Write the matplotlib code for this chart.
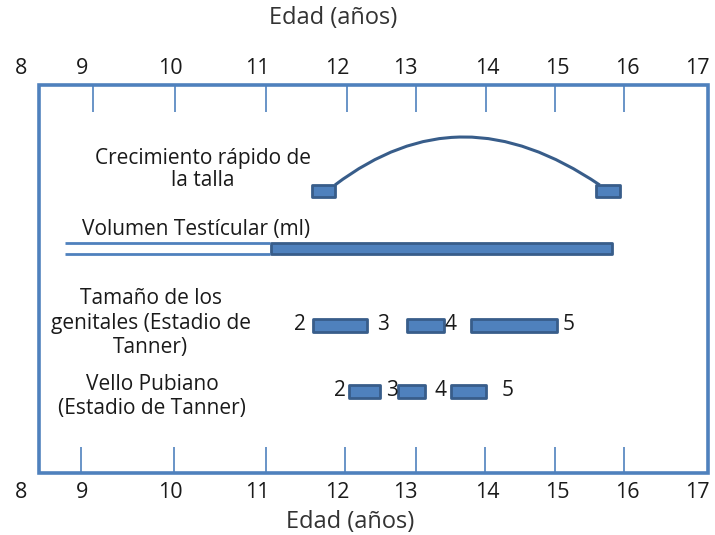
import numpy as np
import matplotlib.pyplot as plt
from matplotlib.path import Path
from matplotlib.patches import PathPatch, Rectangle

plt.rcParams['font.family'] = ['Open Sans', 'DejaVu Sans']

BLUE = '#4F81BD'
EDGE = '#385D8A'
TXT = '#1a1a1a'

# ages printed along the axis
AGES = [8, 9, 10, 11, 12, 13, 14, 15, 16, 17]
# tick marks inside the frame (they do not sit exactly under the numbers)
TOP_TICKS = [9.12, 10.06, 11.11, 12.15, 13.13, 13.99, 14.97, 15.96]
BOTTOM_TICKS = [8.98, 10.05, 11.11, 12.12, 13.13, 13.98, 14.97, 15.96]

# crecimiento rapido de la talla: start / end markers
talla_start = [11.69, 15.56]
talla_end = [11.975, 15.90]

# volumen testicular
testis_line = (8.72, 11.16)
testis_bar = (11.175, 15.78)

# tamano de los genitales (Tanner)
gen_start = [11.70, 13.02, 13.80]
gen_end = [12.44, 13.47, 15.00]
gen_labels = ['2', '3', '4', '5']
gen_label_age = [11.54, 12.68, 13.55, 15.17]

# vello pubiano (Tanner)
vello_start = [12.18, 12.90, 13.56]
vello_end = [12.63, 13.24, 13.99]
vello_labels = ['2', '3', '4', '5']
vello_label_age = [12.04, 12.81, 13.43, 14.29]

# the drawing's age axis is not evenly spaced: map ages onto it
KNOT_AGE = [7, 8, 9, 10, 11, 12, 13, 14, 15, 16, 17, 18]
KNOT_PX = [-40, 21, 82, 170, 257, 337, 405, 487, 557, 627, 697, 767]


def fwd(a):
    return np.interp(a, KNOT_AGE, KNOT_PX)


def inv(p):
    return np.interp(p, KNOT_PX, KNOT_AGE)


fig = plt.figure(figsize=(7.15, 5.35), dpi=100)
ax = fig.add_axes([0, 0, 1, 1])
ax.set_xscale('function', functions=(fwd, inv))
ax.set_xlim(inv(0), inv(715))
ax.set_ylim(535, 0)
ax.axis('off')

# frame + ticks
ax.add_patch(Rectangle((8.30, 85), 17.16 - 8.30, 473 - 85, fill=False,
                       ec=BLUE, lw=2.6))
ax.vlines(TOP_TICKS, 85, 112, color=BLUE, lw=1.2)
ax.vlines(BOTTOM_TICKS, 447, 473, color=BLUE, lw=1.2)

for a in AGES:
    ax.text(a, 68, str(a), ha='center', va='center', fontsize=15.5, color=TXT)
    ax.text(a, 492, str(a), ha='center', va='center', fontsize=15.5, color=TXT)
ax.text(11.95, 18, 'Edad (años)', ha='center', va='center', fontsize=17, color='#333333')
ax.text(12.19, 522, 'Edad (años)', ha='center', va='center', fontsize=17, color='#333333')


def bars(starts, ends, y, h):
    b = ax.barh([y] * len(starts), np.subtract(ends, starts), left=starts,
                height=h, color=BLUE, edgecolor=EDGE, lw=2)
    for p in b:
        p.set_joinstyle('round')


BODY = 15

# talla
bars(talla_start, talla_end, 190.5, 12)
x0, x1 = talla_end[0], talla_start[1] + 0.05
verts = [(x0, 185), (inv(420), 121), (inv(505), 121), (x1, 185)]
ax.add_patch(PathPatch(Path(verts, [Path.MOVETO, Path.CURVE4, Path.CURVE4, Path.CURVE4]),
                       fill=False, ec=EDGE, lw=2.2))
ax.text(10.38, 169.5, 'Crecimiento rápido de\nla talla', ha='center', va='center',
        fontsize=BODY, color=TXT, linespacing=1.12)

# testicular
ax.hlines([243, 254], *testis_line, color=BLUE, lw=2)
bars([testis_bar[0]], [testis_bar[1]], 248.5, 11)
ax.text(10.30, 230, 'Volumen Testícular (ml)', ha='center', va='center',
        fontsize=BODY, color=TXT)

# genitales
bars(gen_start, gen_end, 325, 13)
for lab, a in zip(gen_labels, gen_label_age):
    ax.text(a, 325, lab, ha='center', va='center', fontsize=BODY, color=TXT)
ax.text(9.78, 323, 'Tamaño de los\ngenitales (Estadio de\nTanner)', ha='center',
        va='center', fontsize=BODY, color=TXT, linespacing=1.2)

# vello
bars(vello_start, vello_end, 391, 13)
for lab, a in zip(vello_labels, vello_label_age):
    ax.text(a, 390, lab, ha='center', va='center', fontsize=BODY, color=TXT)
ax.text(9.80, 396.5, 'Vello Pubiano\n(Estadio de Tanner)', ha='center', va='center',
        fontsize=BODY, color=TXT, linespacing=1.2)

fig.savefig('out.png', dpi=100)
